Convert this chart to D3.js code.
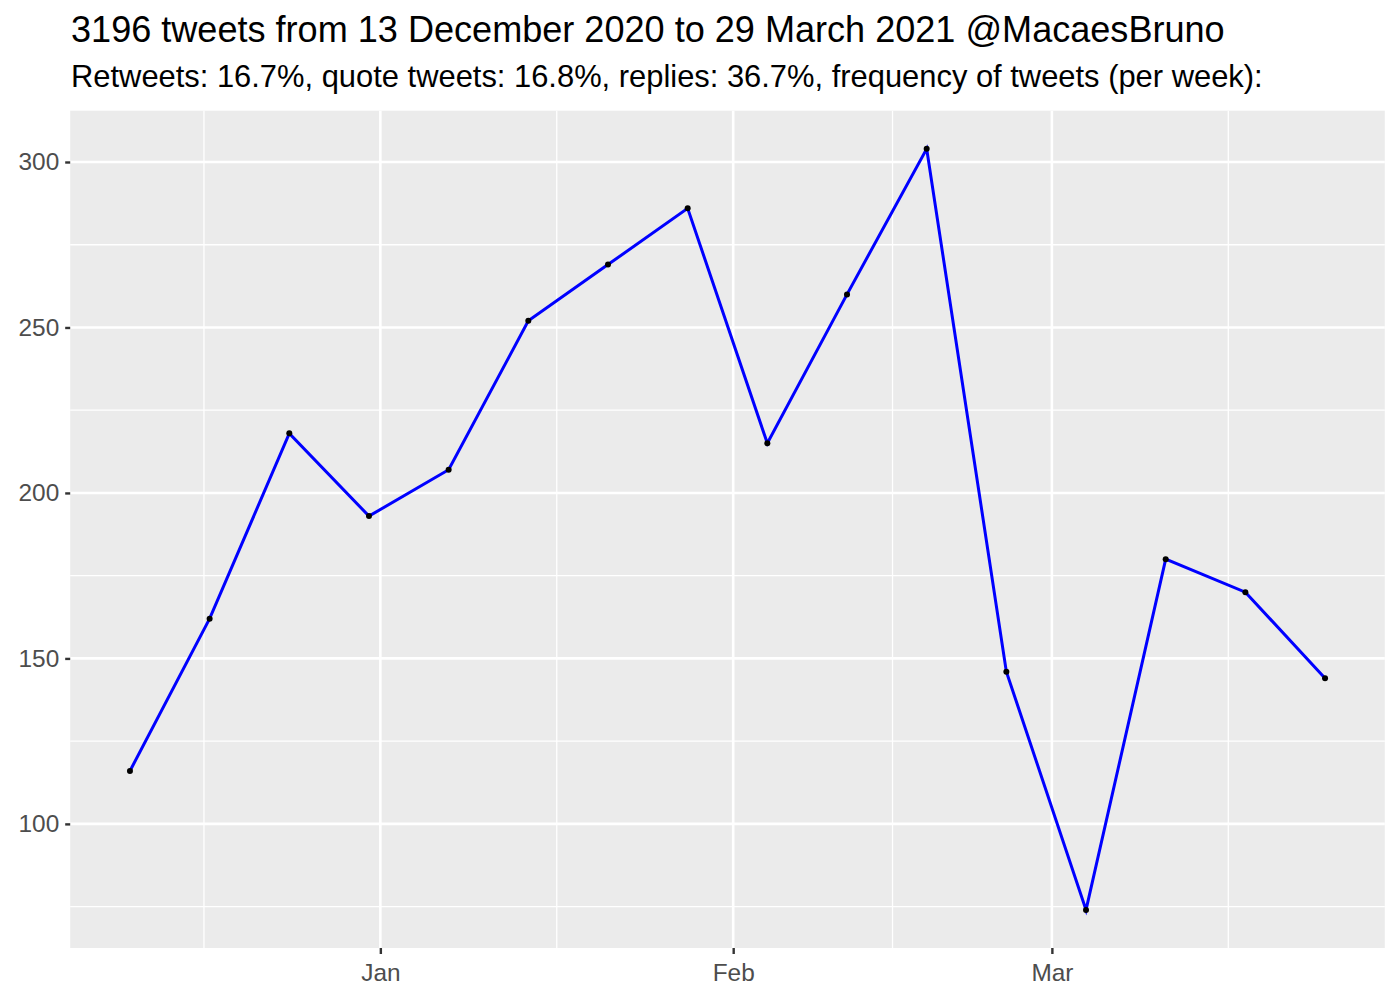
<!DOCTYPE html>
<html>
<head>
<meta charset="utf-8">
<script src="https://cdn.jsdelivr.net/npm/d3@7"></script>
<style>
  body { margin: 0; background: #fff; }
  svg { font-family: "Liberation Sans", Arial, Helvetica, sans-serif; }
</style>
</head>
<body>
<div id="chart"></div>
<script>
// weekly tweet counts
var weeks = ["2020-12-10", "2020-12-17", "2020-12-24", "2020-12-31", "2021-01-07", "2021-01-14",
             "2021-01-21", "2021-01-28", "2021-02-04", "2021-02-11", "2021-02-18", "2021-02-25",
             "2021-03-04", "2021-03-11", "2021-03-18", "2021-03-25"];
var counts = [116, 162, 218, 193, 207, 252, 269, 286, 215, 260, 304, 146, 74, 180, 170, 144];

var yMajor = [100, 150, 200, 250, 300];
var yMinor = [75, 125, 175, 225, 275];
var xMajor = ["2021-01-01", "2021-02-01", "2021-03-01"];
var xMajorLabels = ["Jan", "Feb", "Mar"];
var xMinor = ["2020-12-16T12:00", "2021-01-16T12:00", "2021-02-15T00:00", "2021-03-16T12:00"];

var titleText = "3196 tweets from 13 December 2020 to 29 March 2021 @MacaesBruno";
var subtitleText = "Retweets: 16.7%, quote tweets: 16.8%, replies: 36.7%, frequency of tweets (per week):";

var W = 1400, H = 1000;
var panel = { left: 70.2, right: 1384.8, top: 110.7, bottom: 948 };

var parse = function(s) { return new Date(s + (s.length > 10 ? ":00Z" : "T00:00:00Z")); };

var data = weeks.map(function(w, i) { return { date: parse(w), n: counts[i] }; });

var svg = d3.select("#chart").append("svg")
    .attr("width", W)
    .attr("height", H);

// ggplot-like 5% expansion
var xExt = d3.extent(data, function(d) { return d.date; });
var xPad = (xExt[1] - xExt[0]) * 0.05;
var x = d3.scaleUtc()
    .domain([new Date(+xExt[0] - xPad), new Date(+xExt[1] + xPad)])
    .range([panel.left, panel.right]);

var yExt = d3.extent(counts);
var yPad = (yExt[1] - yExt[0]) * 0.05;
var y = d3.scaleLinear()
    .domain([yExt[0] - yPad, yExt[1] + yPad])
    .range([panel.bottom, panel.top]);

svg.append("rect")
    .attr("x", panel.left)
    .attr("y", panel.top)
    .attr("width", panel.right - panel.left)
    .attr("height", panel.bottom - panel.top)
    .attr("fill", "#EBEBEB");

var grid = svg.append("g");

grid.selectAll(".ymin").data(yMinor).enter().append("line")
    .attr("x1", panel.left).attr("x2", panel.right)
    .attr("y1", function(d) { return y(d); }).attr("y2", function(d) { return y(d); })
    .attr("stroke", "#fff").attr("stroke-width", 1.3);

grid.selectAll(".xmin").data(xMinor).enter().append("line")
    .attr("y1", panel.top).attr("y2", panel.bottom)
    .attr("x1", function(d) { return x(parse(d)); }).attr("x2", function(d) { return x(parse(d)); })
    .attr("stroke", "#fff").attr("stroke-width", 1.3);

grid.selectAll(".ymaj").data(yMajor).enter().append("line")
    .attr("x1", panel.left).attr("x2", panel.right)
    .attr("y1", function(d) { return y(d); }).attr("y2", function(d) { return y(d); })
    .attr("stroke", "#fff").attr("stroke-width", 2.6);

grid.selectAll(".xmaj").data(xMajor).enter().append("line")
    .attr("y1", panel.top).attr("y2", panel.bottom)
    .attr("x1", function(d) { return x(parse(d)); }).attr("x2", function(d) { return x(parse(d)); })
    .attr("stroke", "#fff").attr("stroke-width", 2.6);

// axes
var yAxis = d3.axisLeft(y).tickValues(yMajor).tickSize(5).tickPadding(6);
var gy = svg.append("g")
    .attr("transform", "translate(" + panel.left + ",0)")
    .call(yAxis);

var xAxis = d3.axisBottom(x)
    .tickValues(xMajor.map(parse))
    .tickFormat(function(d, i) { return xMajorLabels[i]; })
    .tickSize(6).tickPadding(4);
var gx = svg.append("g")
    .attr("transform", "translate(0," + panel.bottom + ")")
    .call(xAxis);

[gx, gy].forEach(function(g) {
    g.select(".domain").remove();
    g.selectAll(".tick line").attr("stroke", "#333333").attr("stroke-width", 2.4);
    g.selectAll(".tick text")
        .attr("fill", "#4D4D4D")
        .style("font-size", "24.4px")
        .style("font-family", "'Liberation Sans', Arial, sans-serif");
});
gx.selectAll(".tick text").attr("dy", "0.95em");

// line + points
var line = d3.line()
    .x(function(d) { return x(d.date); })
    .y(function(d) { return y(d.n); });

svg.append("path")
    .datum(data)
    .attr("d", line)
    .attr("fill", "none")
    .attr("stroke", "#0000FF")
    .attr("stroke-width", 3);

svg.selectAll(".pt").data(data).enter().append("circle")
    .attr("cx", function(d) { return x(d.date); })
    .attr("cy", function(d) { return y(d.n); })
    .attr("r", 3)
    .attr("fill", "#000");

// titles
svg.append("text")
    .attr("x", 71).attr("y", 42)
    .style("font-size", "36.1px")
    .attr("fill", "#000")
    .text(titleText);

svg.append("text")
    .attr("x", 71).attr("y", 87)
    .style("font-size", "30.9px")
    .attr("fill", "#000")
    .text(subtitleText);
</script>
</body>
</html>
